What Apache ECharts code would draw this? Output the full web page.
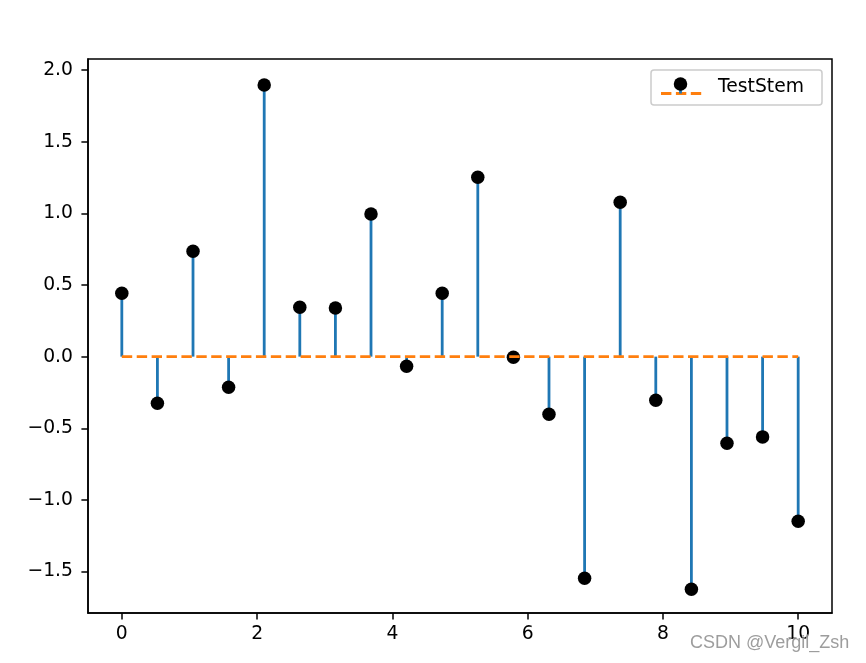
<!DOCTYPE html>
<html><head><meta charset="utf-8">
<script src="https://cdn.jsdelivr.net/npm/echarts@6/dist/echarts.min.js"></script>
<style>html,body{margin:0;padding:0;background:#fff}#c{width:866px;height:663px}</style>
</head><body><div id="c"></div>
<script>
const xValues = [0, 0.5263, 1.0526, 1.5789, 2.1053, 2.6316, 3.1579, 3.6842, 4.2105, 4.7368,
                 5.2632, 5.7895, 6.3158, 6.8421, 7.3684, 7.8947, 8.4211, 8.9474, 9.4737, 10];
const yValues = [0.442, -0.325, 0.735, -0.214, 1.895, 0.345, 0.340, 0.996, -0.067, 0.442,
                 1.252, -0.004, -0.402, -1.547, 1.077, -0.304, -1.623, -0.605, -0.560, -1.149];
const baselineX = [0, 10];
const baselineY = [0, 0];
const xTicks = [0, 2, 4, 6, 8, 10];
const yTicks = [-1.5, -1.0, -0.5, 0.0, 0.5, 1.0, 1.5, 2.0];
const seriesName = 'TestStem';

const pts = xValues.map((x, i) => [x, yValues[i]]);
const base = baselineX.map((x, i) => [x, baselineY[i]]);
const FONT = 'DejaVu Sans';
const FS = 18.75;

const chart = echarts.init(document.getElementById('c'), null, {renderer: 'canvas'});
chart.setOption({
  animation: false,
  backgroundColor: '#fff',
  grid: {left: 88, right: 34, top: 59, bottom: 50, show: true, borderColor: '#000', borderWidth: 1.5, backgroundColor: 'transparent'},
  xAxis: {
    type: 'value', min: -0.5, max: 10.5,
    axisLine: {onZero: false, lineStyle: {color: '#000', width: 1.5}},
    axisTick: {show: true, length: 6.6, lineStyle: {color: '#000', width: 1.5}, customValues: xTicks},
    axisLabel: {customValues: xTicks, fontFamily: FONT, fontSize: FS, color: '#000', margin: 12,
      formatter: v => String(v)},
    splitLine: {show: false}
  },
  yAxis: {
    type: 'value', min: -1.789, max: 2.077,
    axisLine: {show: true, onZero: false, lineStyle: {color: '#000', width: 1.5}},
    axisTick: {show: true, length: 6.6, lineStyle: {color: '#000', width: 1.5}, customValues: yTicks},
    axisLabel: {customValues: yTicks, fontFamily: FONT, fontSize: FS, color: '#000', margin: 15,
      formatter: v => (v < 0 ? '\u2212' : '') + Math.abs(v).toFixed(1)},
    splitLine: {show: false}
  },
  series: [
    {
      type: 'custom', name: 'stems', z: 2,
      data: pts,
      renderItem: (params, api) => {
        const p0 = api.coord([api.value(0), 0]);
        const p1 = api.coord([api.value(0), api.value(1)]);
        return {type: 'line', shape: {x1: p0[0], y1: p0[1], x2: p1[0], y2: p1[1]},
          style: {stroke: '#1f77b4', lineWidth: 2.8}};
      }
    },
    {
      type: 'scatter', name: seriesName, z: 3, data: pts, symbol: 'circle', symbolSize: 13.5,
      itemStyle: {color: '#000', opacity: 1}
    },
    {
      type: 'line', name: 'baseline', z: 4, data: base, symbol: 'none',
      lineStyle: {color: '#ff7f0e', width: 2.8, type: [10.4, 4.5]}
    }
  ],
  graphic: [
    {type: 'rect', z: 10, shape: {x: 651, y: 70, width: 171, height: 35, r: 3},
      style: {fill: 'rgba(255,255,255,0.8)', stroke: '#cccccc', lineWidth: 1.5}},
    {type: 'line', z: 11, shape: {x1: 661, y1: 93.5, x2: 702, y2: 93.5},
      style: {stroke: '#ff7f0e', lineWidth: 2.8, lineDash: [10.4, 4.5]}},
    {type: 'line', z: 11, shape: {x1: 680.5, y1: 84, x2: 680.5, y2: 93.5},
      style: {stroke: '#1f77b4', lineWidth: 2.8}},
    {type: 'circle', z: 12, shape: {cx: 680.5, cy: 84, r: 6.75}, style: {fill: '#000'}},
    {type: 'text', z: 12, x: 718, y: 87, style: {text: seriesName, font: FS + 'px "DejaVu Sans"', fill: '#000', textVerticalAlign: 'middle', verticalAlign: 'middle'}},
    {type: 'text', z: 20, x: 690, y: 643, style: {text: 'CSDN @Vergil_Zsh', font: '18px "Liberation Sans"', fill: 'rgba(140,140,140,0.85)', stroke: 'rgba(255,255,255,0.6)', lineWidth: 1, verticalAlign: 'middle'}}
  ]
});
</script></body></html>
